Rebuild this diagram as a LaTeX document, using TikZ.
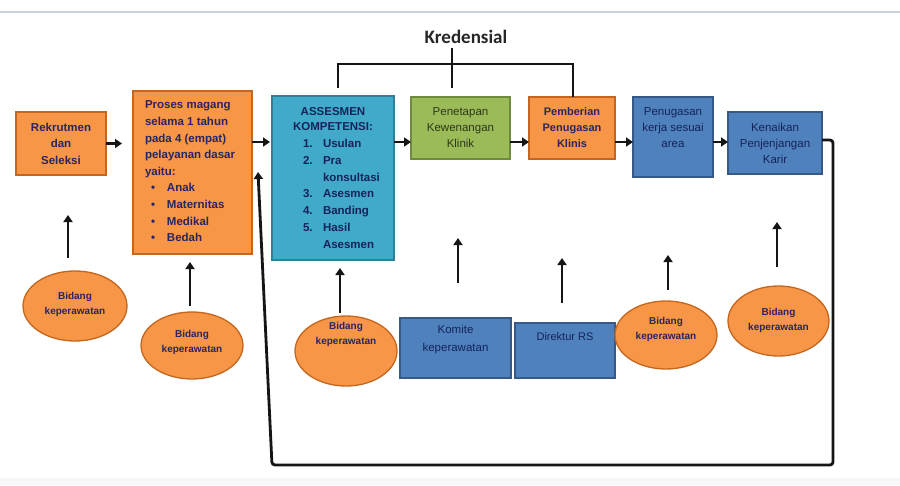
\documentclass[tikz,border=0pt]{standalone}
\usepackage{fontspec}
\setmainfont{Liberation Sans}
\newfontfamily\calib{Carlito}
\usetikzlibrary{arrows.meta,shapes.geometric}
\definecolor{orf}{HTML}{F79646}
\definecolor{ord}{HTML}{C4661E}
\definecolor{tlf}{HTML}{41A9C9}
\definecolor{tld}{HTML}{2F7F98}
\definecolor{grf}{HTML}{9BBB59}
\definecolor{grd}{HTML}{6F8A3C}
\definecolor{blf}{HTML}{4F81BD}
\definecolor{bld}{HTML}{36598A}
\definecolor{txn}{HTML}{2A2560}
\definecolor{txb}{HTML}{15235A}
\definecolor{txg}{HTML}{2C3818}
\definecolor{lnc}{HTML}{151515}
\definecolor{topl}{HTML}{CDD2D7}
\definecolor{botf}{HTML}{F6F7F7}
\begin{document}
\begin{tikzpicture}[x=1pt,y=-1pt,
  every node/.style={inner sep=0pt, outer sep=0pt},
  obox/.style={rectangle, fill=orf, draw=ord, line width=1.3pt},
  tbox/.style={rectangle, fill=tlf, draw=tld, line width=1.3pt},
  gbox/.style={rectangle, fill=grf, draw=grd, line width=1.3pt},
  bbox/.style={rectangle, fill=blf, draw=bld, line width=1.3pt},
  oell/.style={ellipse, fill=orf, draw=ord, line width=1.3pt},
  otxt/.style={text=txn, font=\bfseries\fontsize{11.5}{16.5}\selectfont, align=center},
  ttxt/.style={text=txb, font=\bfseries\fontsize{11.5}{15}\selectfont, align=center},
  gtxt/.style={text=txg, font=\fontsize{11.5}{16}\selectfont, align=center},
  btxt/.style={text=txb, font=\fontsize{11.5}{16}\selectfont, align=center},
  etxt/.style={text=txn, font=\bfseries\fontsize{10}{15}\selectfont, align=center},
  arr/.style={draw=lnc, line width=2.8pt, -{Triangle[width=9pt,length=7pt]}},
  brk/.style={draw=lnc, line width=2.6pt}
]
\useasboundingbox (0,0) rectangle (900,485);
\fill[white] (0,0) rectangle (900,485);
\fill[botf] (0,478) rectangle (900,485);
\draw[topl, line width=1.2pt] (0,12) -- (900,12);

% top row boxes
\node[obox, minimum width=90pt, minimum height=63pt] (rek) at (61,143.5) {};
\node[otxt] (rekt) at (rek.center) {Rekrutmen\\dan\\Seleksi};

\node[obox, minimum width=119pt, minimum height=163pt] (pro) at (192.5,172.5) {};
\node[otxt, font=\bfseries\fontsize{11.5}{16.6}\selectfont, align=left, anchor=north west] (prot) at (145,101)
 {Proses magang\\selama 1 tahun\\pada 4 (empat)\\pelayanan dasar\\yaitu:\\
  \hspace*{6pt}\makebox[16pt][l]{\textbullet}Anak\\
  \hspace*{6pt}\makebox[16pt][l]{\textbullet}Maternitas\\
  \hspace*{6pt}\makebox[16pt][l]{\textbullet}Medikal\\
  \hspace*{6pt}\makebox[16pt][l]{\textbullet}Bedah};

\node[tbox, minimum width=122pt, minimum height=164pt] (asm) at (333,178) {};
\node[ttxt, anchor=north] (asmh) at (333,107) {ASSESMEN\\KOMPETENSI:};
\node[ttxt, font=\bfseries\fontsize{11.5}{16.7}\selectfont, align=left, anchor=north west] (asml) at (303,139.5)
 {\makebox[20pt][l]{1.}Usulan\\
  \makebox[20pt][l]{2.}Pra\\
  \hspace*{20pt}konsultasi\\
  \makebox[20pt][l]{3.}Asesmen\\
  \makebox[20pt][l]{4.}Banding\\
  \makebox[20pt][l]{5.}Hasil\\
  \hspace*{20pt}Asesmen};

\node[gbox, minimum width=99pt, minimum height=62pt] (pen) at (460.5,128) {};
\node[gtxt] (pent) at (pen.center) {Penetapan\\Kewenangan\\Klinik};

\node[obox, minimum width=86pt, minimum height=62pt] (pem) at (572,128) {};
\node[otxt, font=\bfseries\fontsize{11}{16}\selectfont] (pemt) at (pem.center) {Pemberian\\Penugasan\\Klinis};

\node[bbox, minimum width=80pt, minimum height=80pt] (pgs) at (673,137) {};
\node[btxt, yshift=9pt] (pgst) at (pgs.center) {Penugasan\\kerja sesuai\\area};

\node[bbox, minimum width=94pt, minimum height=62pt] (ken) at (775,143) {};
\node[btxt] (kent) at (ken.center) {Kenaikan\\Penjenjangan\\Karir};

% bottom row
\node[bbox, minimum width=111pt, minimum height=60pt] (kom) at (455.5,348) {};
\node[btxt, font=\fontsize{11.5}{18}\selectfont, yshift=8pt] (komt) at (kom.center) {Komite\\keperawatan};

\node[bbox, minimum width=100pt, minimum height=55pt] (dir) at (565,350.5) {};
\node[btxt, font=\fontsize{11}{16}\selectfont, yshift=13.5pt] (dirt) at (dir.center) {Direktur RS};

\node[oell, minimum width=104pt, minimum height=70pt] (e1) at (75,306) {};
\node[etxt, yshift=1.5pt] (e1t) at (e1.center) {Bidang\\keperawatan};
\node[oell, minimum width=102pt, minimum height=67pt] (e2) at (192,345.5) {};
\node[etxt, yshift=3.5pt] (e2t) at (e2.center) {Bidang\\keperawatan};
\node[oell, minimum width=102pt, minimum height=70pt] (e3) at (346,351) {};
\node[etxt, yshift=16.5pt] (e3t) at (e3.center) {Bidang\\keperawatan};
\node[oell, minimum width=102pt, minimum height=68pt] (e4) at (666,335) {};
\node[etxt, yshift=6pt] (e4t) at (e4.center) {Bidang\\keperawatan};
\node[oell, minimum width=101pt, minimum height=70pt] (e5) at (778.5,321) {};
\node[etxt, yshift=1pt] (e5t) at (e5.center) {Bidang\\keperawatan};

% Kredensial bracket
\node[font=\calib\bfseries\fontsize{19}{21}\selectfont, text=black!85] (kred) at (466,37) {Kredensial};
\coordinate (bl) at (338,88);
\coordinate (br) at (573,64);
\coordinate (bm) at (452,88);
\draw[brk] (bl) |- (br) -- (br |- pem.north);
\draw[brk, shorten <=4pt] (bm |- kred.south) -- (bm);

% horizontal arrows
\coordinate (ha) at (0,142);
\draw[arr, shorten >=11pt] (rek.east) -- (rek.east -| pro.west);
\draw[arr, shorten >=2pt] (pro.east |- ha) -- (asm.west |- ha);
\draw[arr] (asm.east |- ha) -- (pen.west |- ha);
\draw[arr] (pen.east |- ha) -- (pem.west |- ha);
\draw[arr] (pem.east |- ha) -- (pgs.west |- ha);
\draw[arr] (pgs.east |- ha) -- (ken.west |- ha);

% vertical arrows (free ends)
\coordinate (t1) at (68,258);  \coordinate (h1) at (68,215);
\coordinate (t2) at (190,306); \coordinate (h2) at (190,262);
\coordinate (t3) at (340,313); \coordinate (h3) at (340,268);
\coordinate (t4) at (458,283); \coordinate (h4) at (458,238);
\coordinate (t5) at (562,303); \coordinate (h5) at (562,258);
\coordinate (t6) at (668,290); \coordinate (h6) at (668,255);
\coordinate (t7) at (777,267); \coordinate (h7) at (777,222);
\foreach \i in {1,...,7} { \draw[arr] (t\i) -- (h\i); }

% feedback loop
\coordinate (f1) at (833,140);
\coordinate (f2) at (833,465);
\coordinate (f3) at (272,465);
\coordinate (f4) at (258,172);
\draw[arr, line width=2.8pt, rounded corners=3pt] (ken.east |- f1) -- (f1) -- (f2) -- (f3) -- (f4);
\end{tikzpicture}
\end{document}
